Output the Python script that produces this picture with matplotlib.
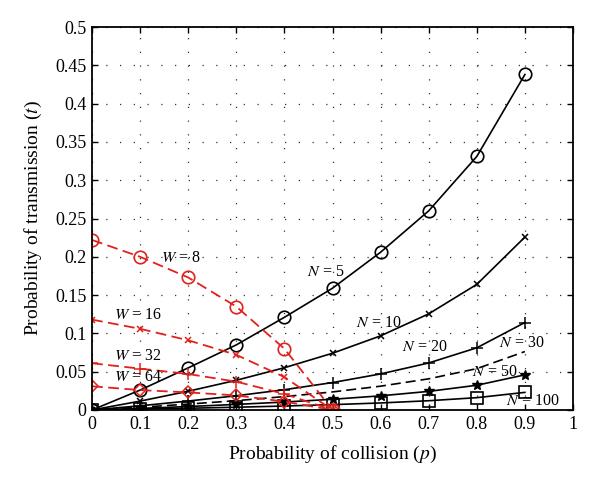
import matplotlib
matplotlib.use("Agg")
import matplotlib.pyplot as plt

plt.rcParams["font.family"] = ["Liberation Serif", "DejaVu Serif"]
plt.rcParams["mathtext.fontset"] = "stix"

p_n = [0, 0.1, 0.2, 0.3, 0.4, 0.5, 0.6, 0.7, 0.8, 0.9]
t_n5 = [0, 0.026, 0.055, 0.085, 0.121, 0.159, 0.206, 0.260, 0.331, 0.438]
t_n10 = [0, 0.0116, 0.0245, 0.0388, 0.0552, 0.0741, 0.0968, 0.1255, 0.1640, 0.2257]
t_n20 = [0, 0.0055, 0.0117, 0.0186, 0.0265, 0.0358, 0.0471, 0.0614, 0.0812, 0.1142]
t_n30 = [0, 0.0036, 0.0077, 0.0122, 0.0175, 0.0236, 0.0311, 0.0407, 0.0540, 0.0763]
t_n50 = [0, 0.0021, 0.0045, 0.0073, 0.0104, 0.0140, 0.0185, 0.0243, 0.0323, 0.0459]
t_n100 = [0, 0.0011, 0.0023, 0.0036, 0.0052, 0.0070, 0.0092, 0.0121, 0.0161, 0.0230]

p_w = [0, 0.1, 0.2, 0.3, 0.4, 0.5]
t_w8 = [0.222, 0.200, 0.173, 0.135, 0.080, 0.0]
t_w16 = [0.118, 0.106, 0.091, 0.072, 0.043, 0.0]
t_w32 = [0.061, 0.054, 0.047, 0.037, 0.021, 0.0]
t_w64 = [0.031, 0.026, 0.023, 0.019, 0.011, 0.0]

x_ticks = [0, 0.1, 0.2, 0.3, 0.4, 0.5, 0.6, 0.7, 0.8, 0.9, 1]
x_labels = ["0", "0.1", "0.2", "0.3", "0.4", "0.5", "0.6", "0.7", "0.8", "0.9", "1"]
y_ticks = [0, 0.05, 0.1, 0.15, 0.2, 0.25, 0.3, 0.35, 0.4, 0.45, 0.5]
y_labels = ["0", "0.05", "0.1", "0.15", "0.2", "0.25", "0.3", "0.35", "0.4", "0.45", "0.5"]

RED = "#e3211c"

fig = plt.figure(figsize=(6.0, 4.87), dpi=100)
ax = fig.add_axes([92 / 600, 77 / 487, 481 / 600, 383 / 487])

kw = dict(color="black", lw=1.2, mfc="none", mec="black")
ax.plot(p_n, t_n5, marker="o", ms=9, mew=1.2, **kw)
ax.plot(p_n, t_n10, marker="x", ms=5, mew=1.1, **kw)
ax.plot(p_n, t_n20, marker="+", ms=9, mew=1.1, **kw)
ax.plot(p_n, t_n30, ls=(0, (6, 3)), color="black", lw=1.2)
ax.plot(p_n, t_n50, marker="*", ms=7, color="black", lw=1.2, mfc="black", mec="black")
ax.plot(p_n, t_n100, marker="s", ms=8, mew=1.2, **kw)

rkw = dict(color=RED, lw=1.3, ls=(0, (6, 3)), mfc="none", mec=RED)
ax.plot(p_w, t_w8, marker="o", ms=9, mew=1.2, **rkw)
ax.plot(p_w, t_w16, marker="x", ms=5, mew=1.1, **rkw)
ax.plot(p_w, t_w32, marker="+", ms=9, mew=1.1, **rkw)
ax.plot(p_w, t_w64, marker="D", ms=6, mew=1.1, **rkw)

fs = 11.5
ax.text(0.143, 0.198, r"$W$ = 8", fontsize=fs, va="center")
ax.text(0.045, 0.124, r"$W$ = 16", fontsize=fs, va="center")
ax.text(0.045, 0.070, r"$W$ = 32", fontsize=fs, va="center")
ax.text(0.045, 0.043, r"$W$ = 64", fontsize=fs, va="center")
ax.text(0.446, 0.180, r"$N$ = 5", fontsize=fs, va="center")
ax.text(0.549, 0.114, r"$N$ = 10", fontsize=fs, va="center")
ax.text(0.644, 0.082, r"$N$ = 20", fontsize=fs, va="center")
ax.text(0.847, 0.088, r"$N$ = 30", fontsize=fs, va="center")
ax.text(0.791, 0.050, r"$N$ = 50", fontsize=fs, va="center")
ax.text(0.860, 0.012, r"$N$ = 100", fontsize=fs, va="center")

ax.set_xlim(0, 1)
ax.set_ylim(0, 0.5)
ax.set_xticks(x_ticks)
ax.set_xticklabels(x_labels, fontsize=13)
ax.set_yticks(y_ticks)
ax.set_yticklabels(y_labels, fontsize=13)
ax.tick_params(direction="in", length=4, width=1, top=True, right=True, pad=4)
ax.grid(True, ls=(0, (1, 10)), color="#333333", lw=0.9)
for s in ax.spines.values():
    s.set_linewidth(1.3)

ax.set_xlabel(r"Probability of collision ($p$)", fontsize=14, labelpad=8)
ax.set_ylabel(r"Probability of transmission ($t$)", fontsize=14, labelpad=8)

fig.savefig("out.png", dpi=100)
